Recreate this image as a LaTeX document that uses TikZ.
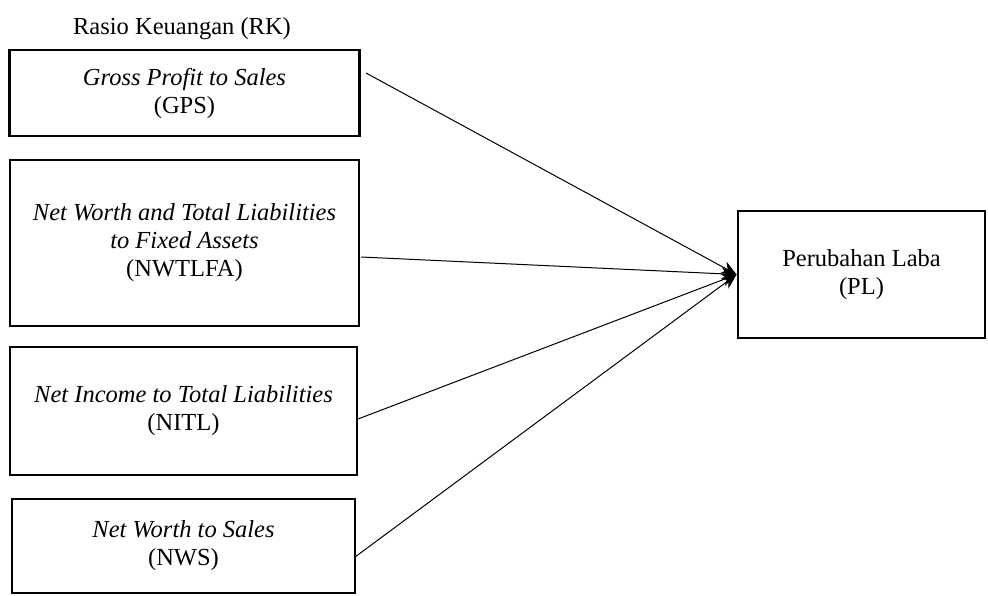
\documentclass[tikz,border=0pt]{standalone}
\usepackage{fontspec}
\setmainfont{Liberation Serif}
\usetikzlibrary{arrows.meta}
\begin{document}
\begin{tikzpicture}[x=1pt,y=-1pt,
  txt/.style={font=\fontsize{24.5}{28}\selectfont, align=center, inner sep=0pt},
  box/.style={txt, draw, line width=2.8pt, minimum width=#1},
  arr/.style={line width=1pt, -{Stealth[length=15pt,width=13pt]}}]
\useasboundingbox (0,0) rectangle (988,596);
\node[txt] (title) at (182,29) {Rasio Keuangan (RK)};
\node[box=350pt, minimum height=86pt] (g) at (184.5,93) {\textit{Gross Profit to Sales}\\(GPS)};
\node[box=349pt, minimum height=166pt] (n) at (184.5,243) {\textit{Net Worth and Total Liabilities}\\\textit{to Fixed Assets}\\(NWTLFA)};
\node[box=347pt, minimum height=128pt] (i) at (183.5,411) {\textit{Net Income to Total Liabilities}\\(NITL)};
\node[box=343pt, minimum height=94pt] (w) at (183.5,546) {\textit{Net Worth to Sales}\\(NWS)};
\node[box=247pt, minimum height=127pt] (p) at (861.5,274.5) {Perubahan Laba\\(PL)};
\coordinate (gs) at (366,73);
\coordinate (ns) at (361,257);
\coordinate (is) at (358,419);
\coordinate (ws) at (355,557);
\draw[arr] (gs) -- (p.west);
\draw[arr] (ns) -- (p.west);
\draw[arr] (is) -- (p.west);
\draw[arr] (ws) -- (p.west);
\end{tikzpicture}
\end{document}
